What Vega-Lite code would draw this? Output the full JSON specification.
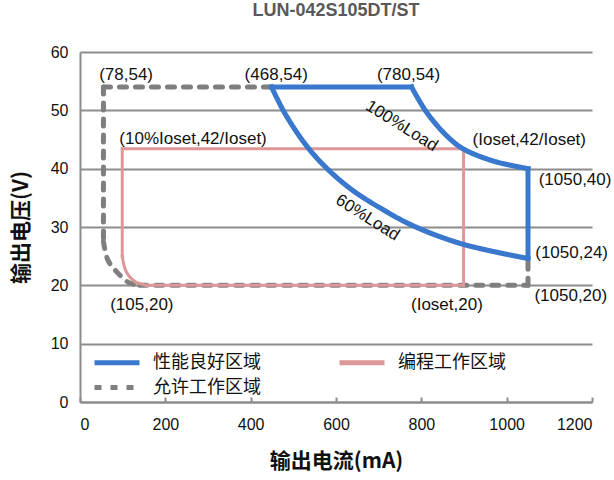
{
  "$schema": "https://vega.github.io/schema/vega-lite/v6.json",
  "width": 512,
  "height": 350,
  "autosize": {"type": "none"},
  "padding": {"left": 80, "top": 52, "right": 22, "bottom": 78},
  "title": {"text": "LUN-042S105DT/ST", "fontSize": 18, "font": "Liberation Sans", "fontWeight": "bold", "color": "#595959", "offset": 24},
  "config": {
    "view": {"stroke": null},
    "axis": {
      "domainColor": "#8c8c8c", "domainWidth": 2,
      "gridColor": "#8c8c8c", "gridWidth": 2,
      "tickColor": "#8c8c8c", "tickWidth": 2,
      "labelFont": "Liberation Sans", "labelFontSize": 16, "labelColor": "#111111",
      "titleFont": "Noto Sans CJK SC", "titleFontSize": 21, "titleFontWeight": "bold", "titleColor": "#111111"
    },
    "text": {"font": "Liberation Sans", "fontSize": 17, "color": "#111111"}
  },
  "datasets": {
    "lines": [
      {"s": "允许工作区域", "seg": "g1", "o": 1, "x": 55, "y": 54},
      {"s": "允许工作区域", "seg": "g1", "o": 2, "x": 449, "y": 54},
      {"s": "允许工作区域", "seg": "g2", "o": 1, "x": 55, "y": 54},
      {"s": "允许工作区域", "seg": "g2", "o": 2, "x": 55, "y": 27.5},
      {"s": "允许工作区域", "seg": "g3", "o": 1, "x": 55, "y": 27.5},
      {"s": "允许工作区域", "seg": "g3", "o": 2, "x": 65, "y": 24.4},
      {"s": "允许工作区域", "seg": "g3", "o": 3, "x": 85, "y": 22.4},
      {"s": "允许工作区域", "seg": "g3", "o": 4, "x": 116, "y": 20.4},
      {"s": "允许工作区域", "seg": "g3", "o": 5, "x": 140, "y": 20},
      {"s": "允许工作区域", "seg": "g4", "o": 1, "x": 140, "y": 20},
      {"s": "允许工作区域", "seg": "g4", "o": 2, "x": 1050, "y": 20},
      {"s": "允许工作区域", "seg": "g5", "o": 1, "x": 1050, "y": 20},
      {"s": "允许工作区域", "seg": "g5", "o": 2, "x": 1050, "y": 24.6},
      {"s": "编程工作区域", "seg": "p1", "o": 1, "x": 99, "y": 25},
      {"s": "编程工作区域", "seg": "p1", "o": 2, "x": 99, "y": 43.4},
      {"s": "编程工作区域", "seg": "p2", "o": 1, "x": 99, "y": 43.4},
      {"s": "编程工作区域", "seg": "p2", "o": 2, "x": 899, "y": 43.4},
      {"s": "编程工作区域", "seg": "p3", "o": 1, "x": 899, "y": 43.4},
      {"s": "编程工作区域", "seg": "p3", "o": 2, "x": 899, "y": 20},
      {"s": "编程工作区域", "seg": "p4", "o": 1, "x": 899, "y": 20},
      {"s": "编程工作区域", "seg": "p4", "o": 2, "x": 155, "y": 20},
      {"s": "编程工作区域", "seg": "p5", "o": 1, "x": 155, "y": 20},
      {"s": "编程工作区域", "seg": "p5", "o": 2, "x": 128, "y": 20.7},
      {"s": "编程工作区域", "seg": "p5", "o": 3, "x": 108, "y": 22.4},
      {"s": "编程工作区域", "seg": "p5", "o": 4, "x": 99, "y": 25},
      {"s": "性能良好区域", "seg": "b1", "o": 1, "x": 449, "y": 54},
      {"s": "性能良好区域", "seg": "b1", "o": 2, "x": 777, "y": 54},
      {"s": "性能良好区域", "seg": "b2", "o": 1, "x": 777, "y": 54},
      {"s": "性能良好区域", "seg": "b2", "o": 2, "x": 813, "y": 49.6},
      {"s": "性能良好区域", "seg": "b2", "o": 3, "x": 860, "y": 45.6},
      {"s": "性能良好区域", "seg": "b2", "o": 4, "x": 898, "y": 43.4},
      {"s": "性能良好区域", "seg": "b2", "o": 5, "x": 969, "y": 41.3},
      {"s": "性能良好区域", "seg": "b2", "o": 6, "x": 1050, "y": 40},
      {"s": "性能良好区域", "seg": "b3", "o": 1, "x": 1050, "y": 40},
      {"s": "性能良好区域", "seg": "b3", "o": 2, "x": 1050, "y": 24.6},
      {"s": "性能良好区域", "seg": "b4", "o": 1, "x": 449, "y": 54},
      {"s": "性能良好区域", "seg": "b4", "o": 2, "x": 480, "y": 49.5},
      {"s": "性能良好区域", "seg": "b4", "o": 3, "x": 530, "y": 44},
      {"s": "性能良好区域", "seg": "b4", "o": 4, "x": 575, "y": 40.3},
      {"s": "性能良好区域", "seg": "b4", "o": 5, "x": 635, "y": 36.5},
      {"s": "性能良好区域", "seg": "b4", "o": 6, "x": 705, "y": 33.2},
      {"s": "性能良好区域", "seg": "b4", "o": 7, "x": 781, "y": 30.2},
      {"s": "性能良好区域", "seg": "b4", "o": 8, "x": 895, "y": 27.1},
      {"s": "性能良好区域", "seg": "b4", "o": 9, "x": 1050, "y": 24.6}
    ],
    "labelsCenter": [
      {"x": 108, "y": 56, "t": "(78,54)"},
      {"x": 460, "y": 56, "t": "(468,54)"},
      {"x": 770, "y": 56, "t": "(780,54)"},
      {"x": 265, "y": 45.1, "t": "(10%Ioset,42/Ioset)"},
      {"x": 1053, "y": 45, "t": "(Ioset,42/Ioset)"},
      {"x": 860, "y": 16.6, "t": "(Ioset,20)"},
      {"x": 145, "y": 16.7, "t": "(105,20)"}
    ],
    "labelsLeft": [
      {"x": 1075, "y": 38, "t": "(1050,40)"},
      {"x": 1067, "y": 25.6, "t": "(1050,24)"},
      {"x": 1065, "y": 18.1, "t": "(1050,20)"}
    ],
    "loads": [
      {"x": 754, "y": 47.3, "t": "100%Load"},
      {"x": 674, "y": 31.6, "t": "60%Load"}
    ]
  },
  "layer": [
    {
      "data": {"name": "lines"},
      "encoding": {
        "x": {"field": "x", "type": "quantitative", "scale": {"domain": [0, 1200], "nice": false},
              "axis": {"values": [0, 200, 400, 600, 800, 1000, 1200], "format": "d", "title": "输出电流(mA)", "grid": false, "tickSize": -5, "labelPadding": 19, "titlePadding": 18}},
        "y": {"field": "y", "type": "quantitative", "scale": {"domain": [0, 60], "nice": false},
              "axis": {"values": [0, 10, 20, 30, 40, 50, 60], "title": "输出电压(V)", "grid": true, "ticks": false, "labelPadding": 12, "titlePadding": 19}},
        "color": {"field": "s", "type": "nominal",
                  "scale": {"domain": ["性能良好区域", "允许工作区域", "编程工作区域"], "range": ["#3a78cd", "#7f7f7f", "#de9797"]},
                  "legend": {"title": null, "orient": "none", "legendX": 24.5, "legendY": 298, "columns": 2, "columnPadding": 68, "rowPadding": 2,
                             "symbolType": "M-2.25,0L2.25,0", "symbolSize": 400, "symbolStrokeWidth": 5,
                             "labelFont": "Noto Sans CJK SC", "labelFontSize": 18, "labelColor": "#111111", "labelOffset": 23.5, "padding": 0}},
        "strokeDash": {"field": "s", "type": "nominal",
                       "scale": {"domain": ["性能良好区域", "允许工作区域", "编程工作区域"], "range": [[1, 0], [7, 9], [1, 0]]},
                       "legend": {"title": null}},
        "detail": {"field": "seg"},
        "order": {"field": "o", "type": "quantitative"}
      },
      "layer": [
        {"transform": [{"filter": "datum.s === '允许工作区域'"}], "mark": {"type": "line", "strokeWidth": 5, "strokeCap": "round", "interpolate": "catmull-rom"}},
        {"transform": [{"filter": "datum.s === '编程工作区域'"}], "mark": {"type": "line", "strokeWidth": 3, "strokeCap": "square", "interpolate": "catmull-rom"}},
        {"transform": [{"filter": "datum.s === '性能良好区域'"}], "mark": {"type": "line", "strokeWidth": 5, "strokeCap": "square", "interpolate": "catmull-rom"}}
      ]
    },
    {
      "data": {"name": "labelsCenter"},
      "mark": {"type": "text", "align": "center", "baseline": "middle"},
      "encoding": {"x": {"field": "x", "type": "quantitative"}, "y": {"field": "y", "type": "quantitative"}, "text": {"field": "t"}}
    },
    {
      "data": {"name": "labelsLeft"},
      "mark": {"type": "text", "align": "left", "baseline": "middle"},
      "encoding": {"x": {"field": "x", "type": "quantitative"}, "y": {"field": "y", "type": "quantitative"}, "text": {"field": "t"}}
    },
    {
      "data": {"name": "loads"},
      "mark": {"type": "text", "align": "center", "baseline": "middle", "angle": 32},
      "encoding": {"x": {"field": "x", "type": "quantitative"}, "y": {"field": "y", "type": "quantitative"}, "text": {"field": "t"}}
    }
  ]
}
